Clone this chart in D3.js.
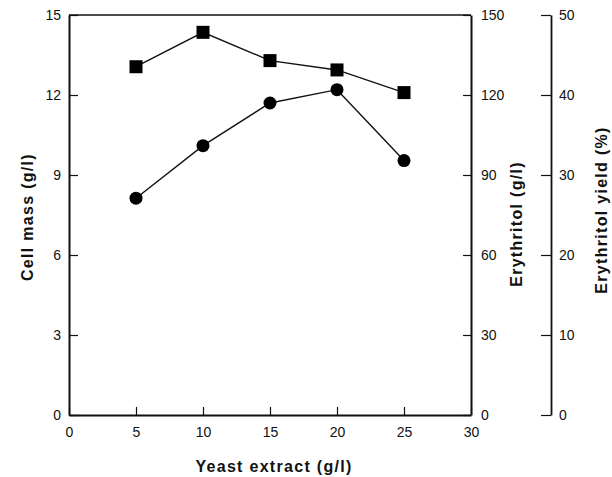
<!DOCTYPE html>
<html>
<head>
<meta charset="utf-8">
<script src="https://cdn.jsdelivr.net/npm/d3@7"></script>
<style>
    body { margin: 0; background: #fff; }
    svg text { font-family: "Liberation Sans", Arial, sans-serif; fill: #111; }
    .tick text { font-size: 14px; }
    .title { font-size: 16px; font-weight: bold; letter-spacing: 1.3px; }
</style>
</head>
<body>
<svg id="chart" width="612" height="477"></svg>
<script>
var yeast = [5, 10, 15, 20, 25];
var erythritol = [130.6, 143.5, 132.9, 129.4, 120.9];
var cellMass = [8.13, 10.1, 11.7, 12.2, 9.54];

var xTicks = [0, 5, 10, 15, 20, 25, 30];
var cellTicks = [0, 3, 6, 9, 12, 15];
var eryTicks = [0, 30, 60, 90, 120, 150];
var yieldTicks = [0, 10, 20, 30, 40, 50];

var style = {
    left: 69,
    right: 471,
    top: 15,
    bottom: 415,
    yieldAxis: 551,
    marker: 13
};

var svg = d3.select("#chart");

var x = d3.scaleLinear().domain([0, 30]).range([style.left, style.right]);
var yCell = d3.scaleLinear().domain([0, 15]).range([style.bottom, style.top]);
var yEry = d3.scaleLinear().domain([0, 150]).range([style.bottom, style.top]);
var yYield = d3.scaleLinear().domain([0, 50]).range([style.bottom, style.top]);

function styleAxis(g, width) {
    g.select(".domain").attr("stroke", "#111").attr("stroke-width", width);
    g.selectAll(".tick line").attr("stroke", "#111").attr("stroke-width", 1.2);
    g.selectAll(".tick text").attr("fill", "#111");
}

// top border
svg.append("line")
    .attr("x1", style.left).attr("x2", style.right)
    .attr("y1", style.top).attr("y2", style.top)
    .attr("stroke", "#111").attr("stroke-width", 1.6);

svg.append("g")
    .attr("transform", "translate(0," + style.bottom + ")")
    .call(d3.axisBottom(x).tickValues(xTicks).tickSizeInner(-8).tickSizeOuter(0).tickPadding(12))
    .call(styleAxis, 2);

svg.append("g")
    .attr("transform", "translate(" + style.left + ",0)")
    .call(d3.axisLeft(yCell).tickValues(cellTicks).tickSizeInner(-9).tickSizeOuter(0).tickPadding(8))
    .call(styleAxis, 2);

svg.append("g")
    .attr("transform", "translate(" + style.right + ",0)")
    .call(d3.axisRight(yEry).tickValues(eryTicks).tickSizeInner(-8).tickSizeOuter(0).tickPadding(10))
    .call(styleAxis, 2);

svg.append("g")
    .attr("transform", "translate(" + style.yieldAxis + ",0)")
    .call(d3.axisRight(yYield).tickValues(yieldTicks).tickSizeInner(-10).tickSizeOuter(0).tickPadding(8))
    .call(styleAxis, 1.8);

// titles
svg.append("text")
    .attr("class", "title")
    .attr("x", 274)
    .attr("y", 472)
    .attr("text-anchor", "middle")
    .text("Yeast extract (g/l)");

svg.append("text")
    .attr("class", "title")
    .attr("transform", "translate(33,217) rotate(-90)")
    .attr("text-anchor", "middle")
    .text("Cell mass (g/l)");

svg.append("text")
    .attr("class", "title")
    .attr("transform", "translate(522,224) rotate(-90)")
    .attr("text-anchor", "middle")
    .text("Erythritol (g/l)");

svg.append("text")
    .attr("class", "title")
    .attr("transform", "translate(607,210) rotate(-90)")
    .attr("text-anchor", "middle")
    .text("Erythritol yield (%)");

// series
var eryPts = yeast.map(function(d, i) { return [d, erythritol[i]]; });
var cellPts = yeast.map(function(d, i) { return [d, cellMass[i]]; });

svg.append("path")
    .datum(eryPts)
    .attr("fill", "none").attr("stroke", "#111").attr("stroke-width", 1.4)
    .attr("d", d3.line().x(function(d) { return x(d[0]); }).y(function(d) { return yEry(d[1]); }));

svg.append("path")
    .datum(cellPts)
    .attr("fill", "none").attr("stroke", "#111").attr("stroke-width", 1.4)
    .attr("d", d3.line().x(function(d) { return x(d[0]); }).y(function(d) { return yCell(d[1]); }));

svg.selectAll(".sq")
    .data(eryPts)
    .enter()
    .append("rect")
    .attr("class", "sq")
    .attr("x", function(d) { return x(d[0]) - style.marker / 2; })
    .attr("y", function(d) { return yEry(d[1]) - style.marker / 2; })
    .attr("width", style.marker)
    .attr("height", style.marker)
    .attr("fill", "#000");

svg.selectAll(".dot")
    .data(cellPts)
    .enter()
    .append("circle")
    .attr("class", "dot")
    .attr("cx", function(d) { return x(d[0]); })
    .attr("cy", function(d) { return yCell(d[1]); })
    .attr("r", style.marker / 2)
    .attr("fill", "#000");
</script>
</body>
</html>
